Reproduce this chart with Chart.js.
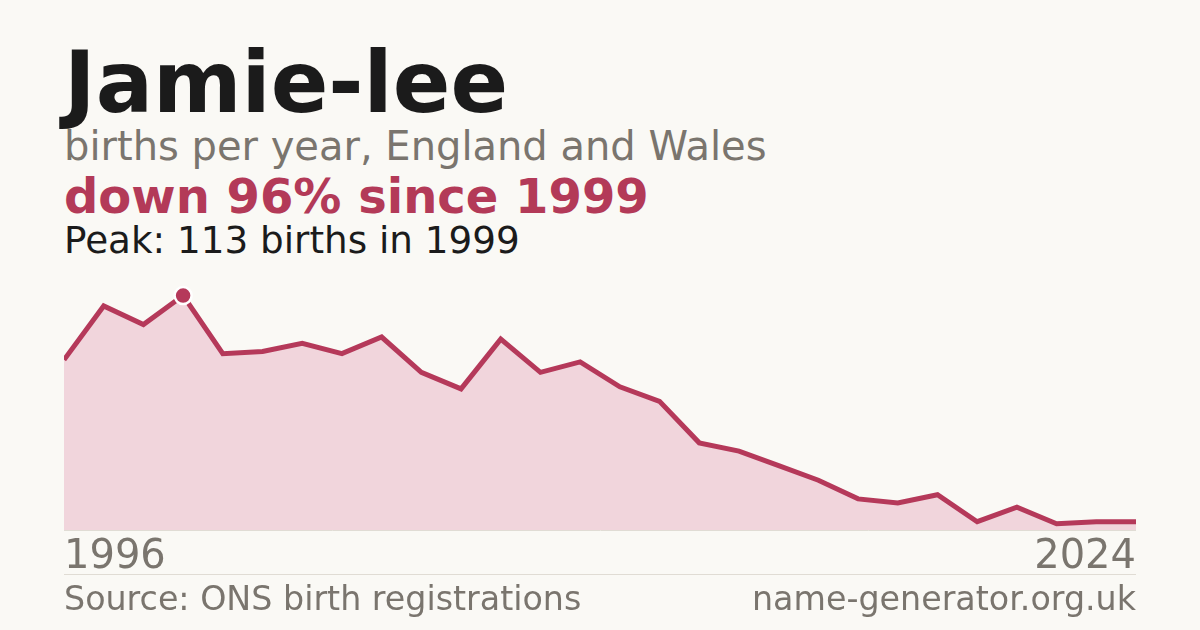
<!DOCTYPE html>
<html>
<head>
<meta charset="utf-8">
<script src="https://cdn.jsdelivr.net/npm/chart.js@4"></script>
<style>
  html, body { margin: 0; padding: 0; }
  body {
    width: 1200px; height: 630px; overflow: hidden; position: relative;
    background: #faf9f5; font-family: "DejaVu Sans", sans-serif;
  }
  .txt { position: absolute; left: 64px; line-height: 1; white-space: nowrap; }
  #title { top: 40px; font-size: 85px; font-weight: bold; color: #1b1b1b; }
  #sub { top: 126px; font-size: 40px; color: #7a756e; }
  #change { top: 172px; font-size: 48px; font-weight: bold; color: #b33a58; }
  #peak { top: 222px; font-size: 37.3px; color: #1b1b1b; }
  #rule { position: absolute; left: 64px; top: 574px; width: 1072px; height: 1px; background: #e0dcd4; }
  .foot { position: absolute; top: 582px; font-size: 33.3px; color: #7a756e; line-height: 1; white-space: nowrap; }
  #source { left: 64px; }
  #site { right: 64px; }
  #wrap { position: absolute; left: 64px; top: 281px; width: 1072px; height: 305px; }
</style>
</head>
<body>
<div class="txt" id="title">Jamie-lee</div>
<div class="txt" id="sub">births per year, England and Wales</div>
<div class="txt" id="change">down 96% since 1999</div>
<div class="txt" id="peak">Peak: 113 births in 1999</div>
<div id="wrap"><canvas id="chart"></canvas></div>
<div id="rule"></div>
<div class="foot" id="source">Source: ONS birth registrations</div>
<div class="foot" id="site">name-generator.org.uk</div>

<script>
// Data
const years = [
  "1996", "1997", "1998", "1999", "2000", "2001", "2002", "2003", "2004", "2005",
  "2006", "2007", "2008", "2009", "2010", "2011", "2012", "2013", "2014", "2015",
  "2016", "2017", "2018", "2019", "2020", "2022", "2023", "2024",
];
const births = [
  82, 108, 99, 113, 85, 86, 90, 85, 93, 76,
  68, 92, 76, 81, 69, 62, 42, 38, 31, 24,
  15, 13, 17, 4, 11, 3, 4, 4,
];
const tickYears = ["1996", "2024"];

const peakIndex = births.indexOf(Math.max(...births));
const crimson = "#b5395a";
const grey = "#7a756e";

const ctx = document.getElementById("chart").getContext("2d");
new Chart(ctx, {
  type: "line",
  data: {
    labels: years,
    datasets: [
      {
        data: births,
        borderColor: crimson,
        borderWidth: 5,
        backgroundColor: "#f1d5dc",
        fill: "origin",
        tension: 0,
        clip: false,
        pointRadius: (c) => (c.dataIndex === peakIndex ? 8.5 : 0),
        pointHoverRadius: 0,
        pointBackgroundColor: crimson,
        pointBorderColor: "#ffffff",
        pointBorderWidth: 2.5,
      },
    ],
  },
  options: {
    responsive: true,
    maintainAspectRatio: false,
    animation: false,
    layout: { padding: 0, autoPadding: false },
    plugins: {
      legend: { display: false },
      tooltip: { enabled: false },
    },
    scales: {
      x: {
        offset: false,
        grid: { display: false, drawTicks: false },
        border: { display: true, color: "#e0dcd4", width: 1 },
        ticks: {
          autoSkip: false,
          maxRotation: 0,
          align: "inner",
          padding: 0,
          color: grey,
          font: { family: "DejaVu Sans", size: 40, lineHeight: 1.4 },
          callback: function (value, index) {
            const label = this.getLabelForValue(value);
            return tickYears.includes(label) ? label : "";
          },
        },
      },
      y: {
        display: false,
        min: 0,
        max: 120,
      },
    },
  },
});
</script>
</body>
</html>
